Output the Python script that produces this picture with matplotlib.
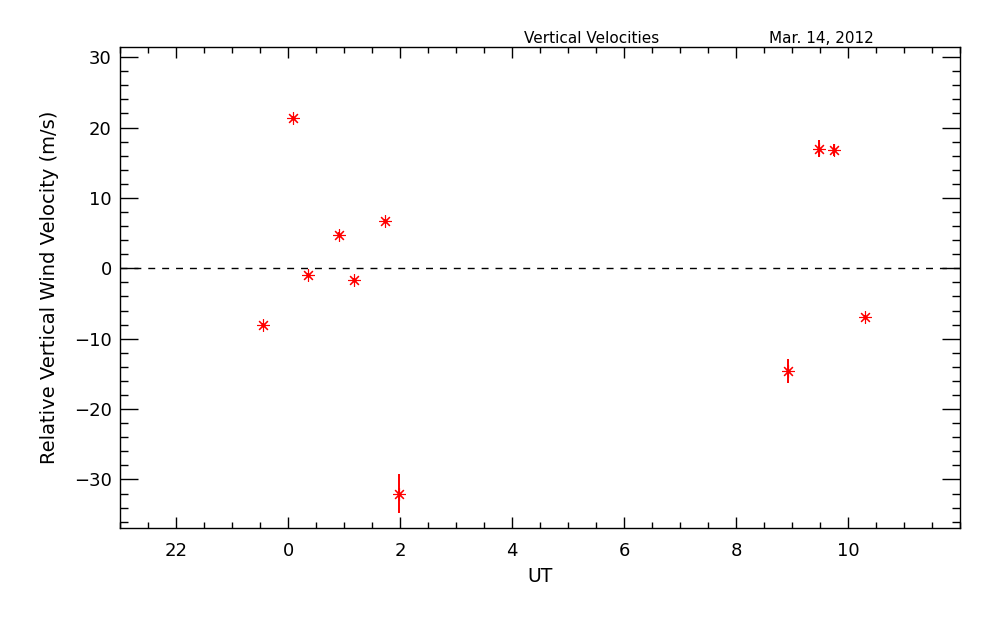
import matplotlib
matplotlib.use("Agg")
import matplotlib.pyplot as plt
from matplotlib.ticker import MultipleLocator, FixedLocator

# UT hours relative to 0 UT (negative values = previous day)
ut_hours = [-0.45, 0.09, 0.36, 0.91, 1.18, 1.73, 1.99, 8.93, 9.48, 9.75, 10.30]
velocity = [-8.1, 21.4, -0.9, 4.8, -1.7, 6.7, -32.0, -14.6, 17.0, 16.8, -6.9]
vel_err = [0.3, 0.3, 0.3, 0.3, 0.3, 0.3, 2.75, 1.7, 1.2, 0.8, 0.3]

x_major = [-2, 0, 2, 4, 6, 8, 10]
x_labels = ["22", "0", "2", "4", "6", "8", "10"]
y_major = [-30, -20, -10, 0, 10, 20, 30]

fig = plt.figure(figsize=(10, 6.25), dpi=100)
ax = fig.add_axes([0.12, 0.1552, 0.84, 0.7691])

ax.errorbar(ut_hours, velocity, yerr=vel_err, fmt="none", ecolor="red",
            elinewidth=1.4, capsize=0, zorder=3)
ax.plot(ut_hours, velocity, linestyle="none", marker=(8, 2, 0), markersize=9,
        markeredgewidth=0.8, color="red", zorder=4)
ax.plot(ut_hours, velocity, linestyle="none", marker="o", markersize=3,
        markeredgewidth=0, color="red", zorder=5)
ax.axhline(0, color="black", linestyle=(0, (5, 5)), linewidth=1.0, zorder=2)

ax.set_xlim(-3, 12)
ax.set_ylim(-36.9, 31.4)

ax.xaxis.set_major_locator(FixedLocator(x_major))
ax.set_xticklabels(x_labels)
ax.xaxis.set_minor_locator(MultipleLocator(0.5))
ax.yaxis.set_major_locator(FixedLocator(y_major))
ax.yaxis.set_minor_locator(MultipleLocator(2))

ax.tick_params(axis="both", which="both", direction="in", top=True, right=True,
               width=1.0, colors="black", labelsize=13)
ax.tick_params(axis="x", which="major", length=8, pad=10)
ax.tick_params(axis="x", which="minor", length=4.5)
ax.tick_params(axis="y", which="major", length=13, pad=6)
ax.tick_params(axis="y", which="minor", length=6)
for sp in ax.spines.values():
    sp.set_linewidth(1.0)

ax.set_xlabel("UT", fontsize=13.5, labelpad=5)
ax.set_ylabel("Relative Vertical Wind Velocity (m/s)", fontsize=14, labelpad=11)

fig.text(0.592, 0.938, "Vertical Velocities", ha="center", va="center", fontsize=11)
fig.text(0.821, 0.938, "Mar. 14, 2012", ha="center", va="center", fontsize=11)

fig.savefig("out.png", dpi=100, facecolor="white")
